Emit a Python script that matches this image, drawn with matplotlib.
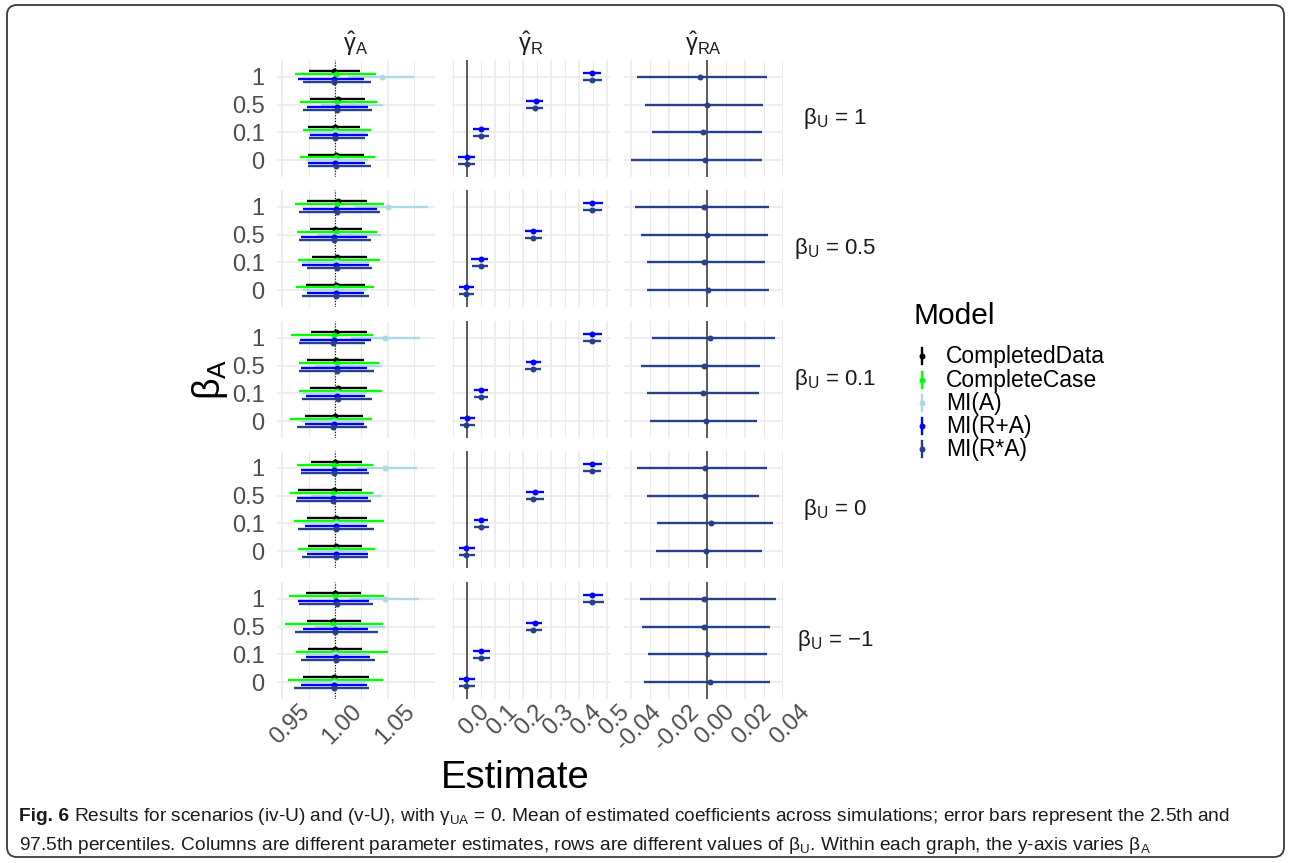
import numpy as np
import matplotlib
matplotlib.use("Agg")
import matplotlib.pyplot as plt
import matplotlib.transforms as mtransforms
from matplotlib import font_manager
from matplotlib.patches import FancyBboxPatch
from matplotlib.lines import Line2D

plt.rcParams['font.family'] = ['Liberation Sans', 'DejaVu Sans']
plt.rcParams['mathtext.fontset'] = 'custom'
plt.rcParams['mathtext.rm'] = 'Liberation Sans'
plt.rcParams['mathtext.it'] = 'Liberation Sans:italic'
plt.rcParams['mathtext.bf'] = 'Liberation Sans:bold'

# ---- data -------------------------------------------------------------
beta_A = ['0', '0.1', '0.5', '1']
beta_U = ['1', '0.5', '0.1', '0', '\u22121']
models = ['CompletedData', 'CompleteCase', 'MI(A)', 'MI(R+A)', 'MI(R*A)']
colors = ['black', '#00FF00', '#ADD8E6', '#0000FF', '#27408B']

# gamma_A : rows = beta_U (1, 0.5, 0.1, 0, -1), cols = beta_A (0, 0.1, 0.5, 1)
gA_cd_lo = [[0.974, 0.974, 0.976, 0.975], [0.972, 0.978, 0.976, 0.973], [0.971, 0.976, 0.973, 0.977],
            [0.974, 0.973, 0.965, 0.977], [0.970, 0.974, 0.973, 0.972]]
gA_cd_mid = [[1.001, 1.000, 1.003, 0.999], [1.001, 1.002, 1.000, 1.003], [1.000, 1.003, 1.001, 1.001],
             [1.001, 1.001, 0.999, 1.000], [0.999, 1.000, 0.998, 1.000]]
gA_cd_hi = [[1.028, 1.024, 1.029, 1.024], [1.029, 1.030, 1.026, 1.030], [1.027, 1.030, 1.028, 1.030],
            [1.026, 1.030, 1.026, 1.026], [1.032, 1.026, 1.025, 1.025]]

gA_cc_lo = [[0.967, 0.970, 0.967, 0.962], [0.963, 0.965, 0.964, 0.962], [0.957, 0.966, 0.966, 0.958],
            [0.965, 0.961, 0.957, 0.964], [0.955, 0.963, 0.952, 0.956]]
gA_cc_mid = [[1.001, 1.000, 1.002, 1.001], [1.001, 1.002, 1.001, 1.002], [0.998, 1.002, 1.002, 0.999],
             [1.001, 1.001, 0.998, 0.999], [0.999, 1.000, 0.998, 1.000]]
gA_cc_hi = [[1.038, 1.034, 1.040, 1.039], [1.037, 1.043, 1.040, 1.047], [1.035, 1.045, 1.042, 1.036],
            [1.038, 1.047, 1.036, 1.036], [1.046, 1.050, 1.046, 1.047]]

gA_mia_lo = [[0.972, 0.975, 0.987, 1.012], [0.970, 0.969, 0.983, 1.019], [0.968, 0.970, 0.981, 1.015],
             [0.971, 0.970, 0.977, 1.021], [0.966, 0.972, 0.981, 1.013]]
gA_mia_mid = [[1.000, 1.000, 1.016, 1.045], [1.001, 1.001, 1.013, 1.050], [0.999, 1.002, 1.015, 1.048],
              [1.001, 1.001, 1.013, 1.048], [0.999, 1.000, 1.014, 1.048]]
gA_mia_hi = [[1.031, 1.030, 1.046, 1.075], [1.030, 1.032, 1.044, 1.089], [1.028, 1.030, 1.045, 1.081],
             [1.030, 1.031, 1.045, 1.078], [1.029, 1.032, 1.048, 1.080]]

gA_mira_lo = [[0.974, 0.976, 0.973, 0.965], [0.973, 0.969, 0.968, 0.970], [0.971, 0.972, 0.968, 0.967],
              [0.973, 0.971, 0.964, 0.968], [0.968, 0.972, 0.970, 0.965]]
gA_mira_mid = [[1.000, 1.000, 1.002, 0.999], [1.001, 1.001, 0.999, 1.001], [0.999, 1.002, 1.002, 0.999],
               [1.001, 1.001, 0.998, 0.999], [0.999, 1.001, 1.000, 1.001]]
gA_mira_hi = [[1.029, 1.031, 1.031, 1.028], [1.028, 1.032, 1.030, 1.040], [1.028, 1.029, 1.030, 1.034],
              [1.031, 1.030, 1.031, 1.030], [1.030, 1.033, 1.031, 1.032]]

gA_mirxa_lo = [[0.974, 0.975, 0.970, 0.970], [0.969, 0.973, 0.966, 0.966], [0.964, 0.969, 0.966, 0.966],
               [0.969, 0.965, 0.963, 0.968], [0.961, 0.968, 0.962, 0.966]]
gA_mirxa_mid = [[1.001, 1.000, 1.002, 0.999], [1.001, 1.002, 0.999, 1.002], [0.998, 1.003, 1.002, 0.998],
                [1.001, 1.001, 0.998, 0.999], [0.999, 1.001, 1.000, 1.002]]
gA_mirxa_hi = [[1.034, 1.029, 1.035, 1.034], [1.032, 1.035, 1.034, 1.043], [1.030, 1.035, 1.037, 1.029],
               [1.031, 1.037, 1.034, 1.032], [1.032, 1.038, 1.041, 1.036]]

# gamma_R : only MI(R+A) and MI(R*A)
gR_ra_lo = [[-0.033, 0.021, 0.212, 0.414], [-0.027, 0.015, 0.206, 0.414], [-0.024, 0.026, 0.211, 0.414],
            [-0.030, 0.024, 0.212, 0.414], [-0.030, 0.020, 0.212, 0.414]]
gR_ra_mid = [[0.000, 0.050, 0.248, 0.449], [-0.004, 0.050, 0.238, 0.449], [0.000, 0.050, 0.238, 0.449],
             [-0.004, 0.050, 0.242, 0.449], [-0.004, 0.050, 0.242, 0.449]]
gR_ra_hi = [[0.029, 0.080, 0.271, 0.480], [0.026, 0.077, 0.270, 0.486], [0.027, 0.077, 0.264, 0.485],
            [0.027, 0.077, 0.276, 0.482], [0.027, 0.081, 0.270, 0.486]]

gR_rxa_lo = [[-0.033, 0.021, 0.212, 0.414], [-0.027, 0.018, 0.206, 0.414], [-0.024, 0.024, 0.209, 0.414],
             [-0.030, 0.024, 0.212, 0.414], [-0.030, 0.020, 0.212, 0.414]]
gR_rxa_mid = [[0.000, 0.050, 0.245, 0.449], [-0.004, 0.050, 0.238, 0.449], [-0.002, 0.050, 0.238, 0.449],
              [-0.004, 0.050, 0.238, 0.449], [-0.004, 0.050, 0.238, 0.449]]
gR_rxa_hi = [[0.029, 0.080, 0.271, 0.482], [0.026, 0.077, 0.270, 0.484], [0.027, 0.077, 0.266, 0.481],
             [0.027, 0.078, 0.276, 0.481], [0.027, 0.081, 0.270, 0.489]]

# gamma_RA : only MI(R*A)
gRA_lo = [[-0.0402, -0.0289, -0.0328, -0.0368], [-0.0316, -0.0316, -0.0351, -0.0379],
          [-0.0300, -0.0316, -0.0347, -0.0291], [-0.0268, -0.0263, -0.0316, -0.0368],
          [-0.0330, -0.0312, -0.0342, -0.0353]]
gRA_mid = [[-0.0009, -0.0021, 0.0000, -0.0039], [0.0004, -0.0014, 0.0000, -0.0014],
           [-0.0005, -0.0023, -0.0019, 0.0016], [-0.0005, 0.0021, -0.0011, -0.0011],
           [0.0016, 0.0000, -0.0019, -0.0014]]
gRA_hi = [[0.0288, 0.0291, 0.0295, 0.0318], [0.0325, 0.0307, 0.0319, 0.0328],
          [0.0263, 0.0275, 0.0279, 0.0360], [0.0289, 0.0349, 0.0272, 0.0316],
          [0.0333, 0.0316, 0.0333, 0.0363]]

strip_top = [r'$\hat{\mathrm{\gamma}}_{\mathrm{A}}$', r'$\hat{\mathrm{\gamma}}_{\mathrm{R}}$',
             r'$\hat{\mathrm{\gamma}}_{\mathrm{RA}}$']
x_major = [[0.95, 1.00, 1.05], [0.0, 0.1, 0.2, 0.3, 0.4, 0.5], [-0.04, -0.02, 0.0, 0.02, 0.04]]
x_minor = [[0.975, 1.025, 1.075], [-0.05, 0.05, 0.15, 0.25, 0.35, 0.45], [-0.03, -0.01, 0.01, 0.03]]
x_labels = [['0.95', '1.00', '1.05'], ['0.0', '0.1', '0.2', '0.3', '0.4', '0.5'],
            ['-0.04', '-0.02', '0.00', '0.02', '0.04']]
x_limits = [(0.9448, 1.0952), (-0.0536, 0.512), (-0.0438, 0.0398)]

# panel -> list of (model index, lo, mid, hi)
panels = [
    [(0, gA_cd_lo, gA_cd_mid, gA_cd_hi), (1, gA_cc_lo, gA_cc_mid, gA_cc_hi),
     (2, gA_mia_lo, gA_mia_mid, gA_mia_hi), (3, gA_mira_lo, gA_mira_mid, gA_mira_hi),
     (4, gA_mirxa_lo, gA_mirxa_mid, gA_mirxa_hi)],
    [(3, gR_ra_lo, gR_ra_mid, gR_ra_hi), (4, gR_rxa_lo, gR_rxa_mid, gR_rxa_hi)],
    [(4, gRA_lo, gRA_mid, gRA_hi)],
]
dodge = [[0.2, 0.1, 0.0, -0.1, -0.2], [0.125, -0.125], [0.0]]

# ---- layout (pixels) --------------------------------------------------
W, H = 1290, 863
col_px = [(277, 435), (452, 610), (624, 783)]
row_top = [60, 190, 321, 451, 582]
panel_h = 117
grid_col = '#EBEBEB'
tick_col = '#4D4D4D'
tick_fs = 17

fig = plt.figure(figsize=(W / 100, H / 100), dpi=100)


def box(l, t, r, b):
    return [l / W, 1 - b / H, (r - l) / W, (b - t) / H]


for i, top in enumerate(row_top):
    for j, (l, r) in enumerate(col_px):
        ax = fig.add_axes(box(l, top, r, top + panel_h))
        ax.set_xlim(*x_limits[j])
        ax.set_ylim(0.4, 4.6)
        ax.set_xticks(x_major[j])
        ax.set_xticks(x_minor[j], minor=True)
        ax.set_yticks(range(1, 5))
        ax.grid(which='major', color=grid_col, lw=1.2, zorder=0)
        ax.grid(which='minor', axis='x', color=grid_col, lw=0.7, zorder=0)
        ax.set_axisbelow(True)
        for s in ax.spines.values():
            s.set_visible(False)
        ax.tick_params(which='both', length=0, labelbottom=False, pad=9)
        if j == 0:
            ax.set_yticklabels(beta_A, fontsize=tick_fs, color=tick_col)
            ax.axvline(1.0, color='black', ls=(0, (1, 1.5)), lw=0.8, zorder=1)
        else:
            ax.set_yticklabels([])
            ax.axvline(0.0, color='#333333', lw=1.1, zorder=1)

        for k, (m, lo, mid, hi) in enumerate(panels[j]):
            y = np.arange(1, 5) + dodge[j][k]
            ax.hlines(y, np.array(lo[i]), np.array(hi[i]), color=colors[m], lw=1.7, zorder=2 + k)
            ax.plot(mid[i], y, 'o', color=colors[m], ms=4.3, mew=0, zorder=2 + k)

        if i == len(row_top) - 1:
            trans = mtransforms.blended_transform_factory(ax.transData, ax.transAxes) + \
                mtransforms.ScaledTranslation(0.075, -0.02, fig.dpi_scale_trans)
            for v, s in zip(x_major[j], x_labels[j]):
                ax.text(v, 0, s, transform=trans, rotation=45, ha='center', va='top',
                        fontsize=tick_fs, color=tick_col)

# overlay in pixel coordinates for texts, legend and frame
ov = fig.add_axes([0, 0, 1, 1], zorder=-1)
ov.set_xlim(0, W)
ov.set_ylim(H, 0)
ov.axis('off')

ov.add_patch(FancyBboxPatch((7, 5), 1277, 852, boxstyle='round,pad=0,rounding_size=10',
                            fc='white', ec='#3a3a3a', lw=1.3))

for j, (l, r) in enumerate(col_px):
    ov.text((l + r) / 2, 44, strip_top[j], ha='center', va='center', fontsize=17, color='#1A1A1A')
for i, top in enumerate(row_top):
    ov.text(835, top + panel_h / 2, r'$\mathrm{\beta_{U}}$ = ' + beta_U[i], ha='center', va='center',
            fontsize=16, color='#1A1A1A')

ov.text(210, 379, r'$\mathrm{\beta_{A}}$', rotation=90, ha='center', va='center', fontsize=27)
ov.text(515, 778, 'Estimate', ha='center', va='center', fontsize=27.5)

# legend
ov.text(914, 316, 'Model', ha='left', va='center', fontsize=21.5)
leg_y = [356, 380, 403, 426, 449]
for m, y in enumerate(leg_y):
    ov.add_line(Line2D([922, 922], [y - 8, y + 8], color=colors[m], lw=1.7))
    ov.plot([922], [y], 'o', color=colors[m], ms=4.3, mew=0)
    ov.text(946, y, models[m], ha='left', va='center', fontsize=16.5)

# caption
names = {f.name for f in font_manager.fontManager.ttflist}
cap_family = 'Liberation Sans Narrow' if 'Liberation Sans Narrow' in names else 'Liberation Sans'
cap_fs = 15.5 if cap_family == 'Liberation Sans Narrow' else 13.8
cap1 = (r'Results for scenarios (iv-U) and (v-U), with $\mathrm{\gamma_{UA}}$ = 0. Mean of estimated '
        r'coefficients across simulations; error bars represent the 2.5th and')
cap2 = (r'97.5th percentiles. Columns are different parameter estimates, rows are different values of '
        r'$\mathrm{\beta_{U}}$. Within each graph, the y-axis varies $\mathrm{\beta_{A}}$')
fig_lbl = ov.text(19, 816, 'Fig. 6', ha='left', va='center', fontsize=cap_fs, family=cap_family,
                  weight='bold', color='#1A1A1A')
fig.canvas.draw()
bb = fig_lbl.get_window_extent()
ov.text(19 + bb.width + 5, 816, cap1, ha='left', va='center', fontsize=cap_fs, family=cap_family,
        color='#1A1A1A')
ov.text(19, 845, cap2, ha='left', va='center', fontsize=cap_fs, family=cap_family, color='#1A1A1A')

fig.savefig('out.png', dpi=100)
